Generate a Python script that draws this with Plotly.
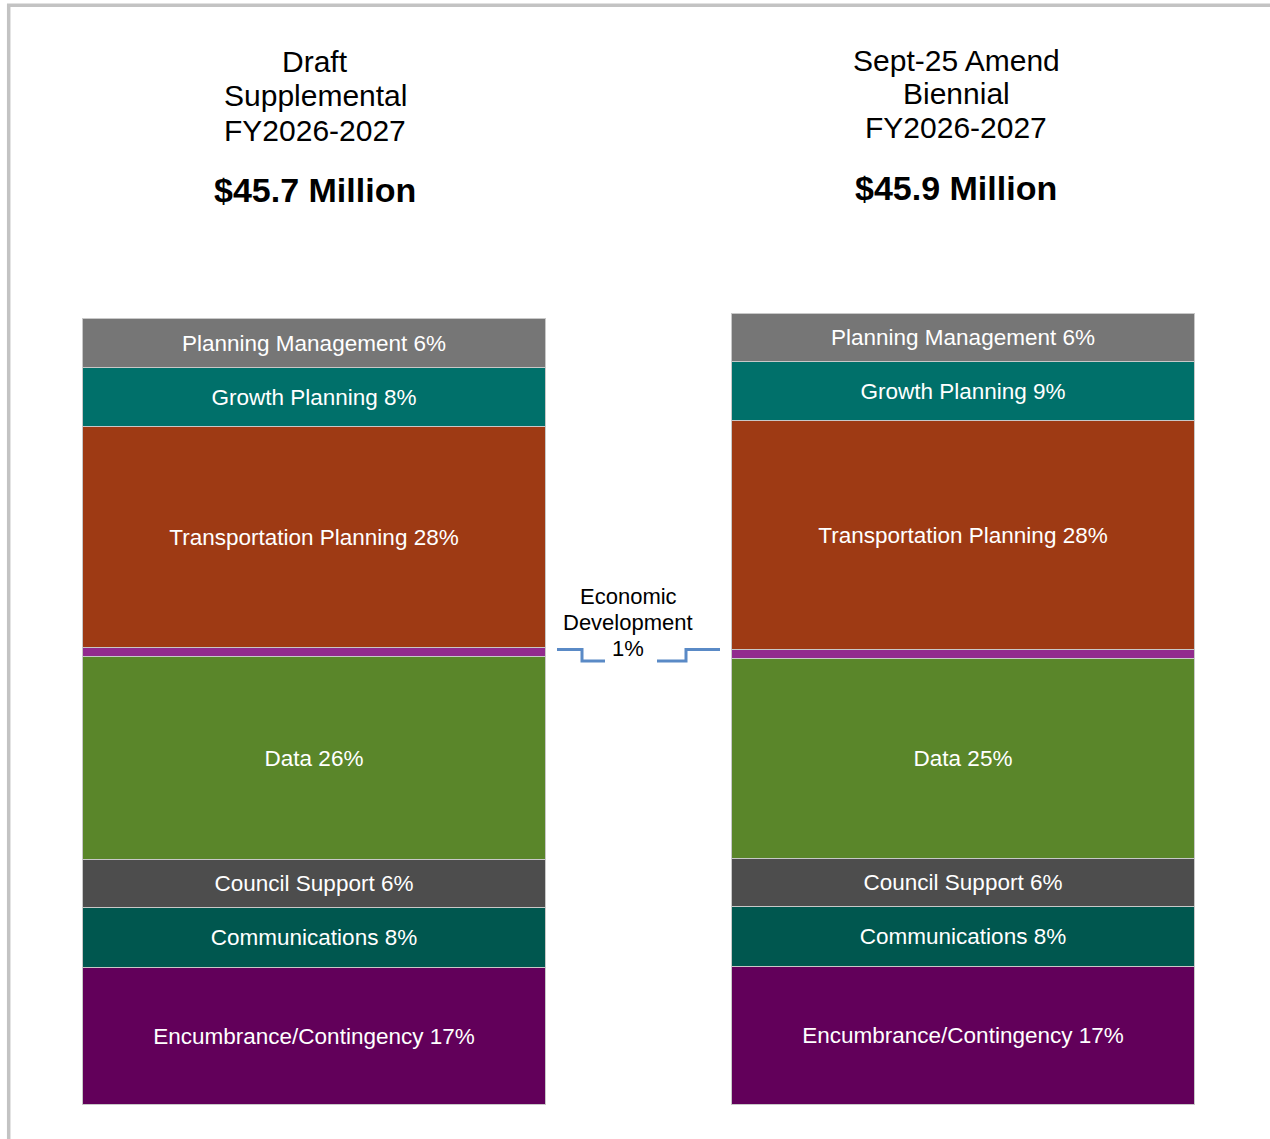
import plotly.graph_objects as go

W, H = 1270, 1139
FONT = 'Arial, Liberation Sans, sans-serif'

scenarios = ['Draft Supplemental FY2026-2027', 'Sept-25 Amend Biennial FY2026-2027']
title_lines = [['Draft', 'Supplemental', 'FY2026-2027'],
               ['Sept-25 Amend', 'Biennial', 'FY2026-2027']]
totals = ['$45.7 Million', '$45.9 Million']

# stacked bottom to top, $ millions
programs = ['Encumbrance/Contingency', 'Communications', 'Council Support', 'Data',
            'Economic Development', 'Transportation Planning', 'Growth Planning',
            'Planning Management']
draft_vals = [7.97, 3.49, 2.79, 11.80, 0.52, 12.85, 3.43, 2.85]
amend_vals = [8.02, 3.49, 2.79, 11.63, 0.52, 13.31, 3.43, 2.79]
draft_pct = [17, 8, 6, 26, 1, 28, 8, 6]
amend_pct = [17, 8, 6, 25, 1, 28, 9, 6]
colors = ['#62005A', '#00574F', '#4D4D4D', '#5A862A', '#922A8E', '#9E3A14',
          '#00706A', '#767676']

econ_lines = ['Economic', 'Development', '1%']


def px(x):
    return x / W


def py(y):
    return 1 - y / H


fig = go.Figure()
for i, prog in enumerate(programs):
    if prog == 'Economic Development':
        txt = ['', '']
    else:
        txt = [f'{prog} {draft_pct[i]}%', f'{prog} {amend_pct[i]}%']
    fig.add_trace(go.Bar(
        x=scenarios, y=[draft_vals[i], amend_vals[i]], name=prog,
        width=0.7134,
        marker=dict(color=colors[i], line=dict(color='#C8C8C8', width=1)),
        text=txt, textposition='inside', insidetextanchor='middle',
        constraintext='none', textangle=0,
        textfont=dict(family=FONT, size=22.5, color='white'),
        hoverinfo='skip', showlegend=False,
    ))

annotations = []
title_x = [315, 956]
title_y = [[62, 96, 130], [60, 94, 128]]
total_y = [190, 188]
for k in range(2):
    for line, yy in zip(title_lines[k], title_y[k]):
        annotations.append(dict(text=line, x=px(title_x[k]), y=py(yy), xref='paper', yref='paper',
                                showarrow=False, xanchor='center', yanchor='middle',
                                font=dict(family=FONT, size=30, color='black')))
    annotations.append(dict(text=f'<b>{totals[k]}</b>', x=px(title_x[k]), y=py(total_y[k]),
                            xref='paper', yref='paper', showarrow=False,
                            xanchor='center', yanchor='middle',
                            font=dict(family=FONT, size=34, color='black')))

for line, yy in zip(econ_lines, [596, 622, 648]):
    annotations.append(dict(text=line, x=px(628), y=py(yy), xref='paper', yref='paper',
                            showarrow=False, xanchor='center', yanchor='middle',
                            font=dict(family=FONT, size=22, color='black')))


def path(pts):
    return 'M ' + ' L '.join(f'{px(a):.5f},{py(b):.5f}' for a, b in pts)


shapes = [
    # frame
    dict(type='line', xref='paper', yref='paper', x0=px(7), x1=1, y0=py(5.3), y1=py(5.3),
         line=dict(color='#C3C3C3', width=3.5)),
    dict(type='line', xref='paper', yref='paper', x0=px(8.7), x1=px(8.7), y0=py(4), y1=0,
         line=dict(color='#C3C3C3', width=3.5)),
    # connectors for Economic Development
    dict(type='path', xref='paper', yref='paper',
         path=path([(557, 649.5), (582, 649.5), (582, 661), (605, 661)]),
         line=dict(color='#5A8AC6', width=3)),
    dict(type='path', xref='paper', yref='paper',
         path=path([(657, 661), (686, 661), (686, 649.5), (720, 649.5)]),
         line=dict(color='#5A8AC6', width=3)),
]

fig.update_layout(
    barmode='stack', bargap=0,
    width=W, height=H, autosize=False,
    margin=dict(l=0, r=0, t=0, b=0),
    xaxis=dict(visible=False, range=[-0.4846, 1.4723], fixedrange=True),
    yaxis=dict(visible=False, range=[-1.977, 64.246], fixedrange=True),
    plot_bgcolor='white', paper_bgcolor='white',
    annotations=annotations, shapes=shapes,
    font=dict(family=FONT),
)

fig.write_html('out.html', config={'displayModeBar': False},
               post_script="document.body.style.margin='0';document.body.style.overflow='hidden';")
